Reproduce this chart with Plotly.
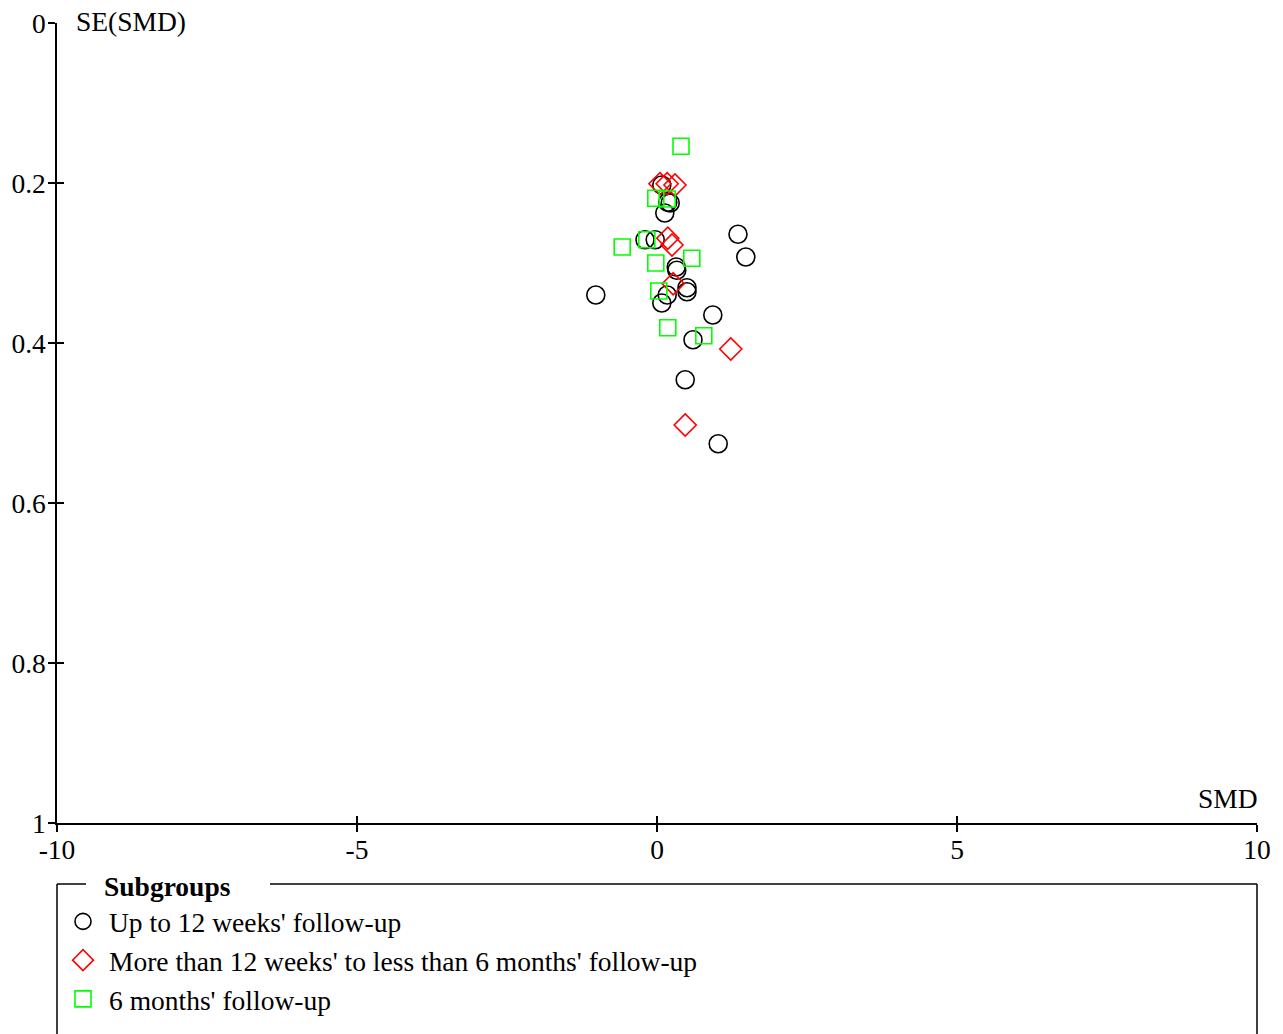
import plotly.graph_objects as go

# Data (SMD, SE(SMD))
up12_smd = [0.08, 0.18, 0.22, 0.13, -0.03, -0.20, 1.35, 1.48, 0.32, 0.33, 0.50, 0.50, 0.17, 0.08, -1.02, 0.93, 0.60, 0.47, 1.02]
up12_se = [0.2025, 0.224, 0.225, 0.2375, 0.271, 0.271, 0.264, 0.2925, 0.305, 0.309, 0.331, 0.336, 0.34, 0.35, 0.34, 0.365, 0.396, 0.446, 0.526]

mid_smd = [0.05, 0.17, 0.30, 0.18, 0.25, 0.27, 1.23, 0.47]
mid_se = [0.201, 0.201, 0.2025, 0.269, 0.2775, 0.326, 0.4075, 0.5025]

six_smd = [0.40, -0.02, 0.17, -0.17, -0.58, -0.02, 0.58, 0.03, 0.18, 0.78]
six_se = [0.154, 0.219, 0.22, 0.271, 0.28, 0.30, 0.294, 0.335, 0.381, 0.391]

series_names = ["Up to 12 weeks' follow-up",
                "More than 12 weeks' to less than 6 months' follow-up",
                "6 months' follow-up"]

x_ticks = [-10, -5, 0, 5, 10]
x_ticktext = ["-10", "-5", "0", "5", "10"]
y_ticks = [0, 0.2, 0.4, 0.6, 0.8, 1]
y_ticktext = ["0", "0.2", "0.4", "0.6", "0.8", "1"]

FONT = "Liberation Serif, Times New Roman, serif"
FS = 27.5

fig = go.Figure()
fig.add_trace(go.Scatter(x=up12_smd, y=up12_se, mode="markers", name=series_names[0],
                         marker=dict(symbol="circle-open", size=18, color="black",
                                     line=dict(width=1.6, color="black"))))
fig.add_trace(go.Scatter(x=mid_smd, y=mid_se, mode="markers", name=series_names[1],
                         marker=dict(symbol="diamond-open", size=17, color="red",
                                     line=dict(width=1.6, color="red"))))
fig.add_trace(go.Scatter(x=six_smd, y=six_se, mode="markers", name=series_names[2],
                         marker=dict(symbol="square-open", size=16, color="#00ff00",
                                     line=dict(width=1.6, color="#00ff00"))))
# dummy trace to host the overlay axes (inward half of the crossing ticks)
fig.add_trace(go.Scatter(x=[None], y=[None], xaxis="x2", yaxis="y2", showlegend=False,
                         hoverinfo="skip"))

axis_common = dict(showgrid=False, zeroline=False, showline=True, linecolor="black",
                   linewidth=1.5, ticks="outside", ticklen=7, tickwidth=1.5, tickcolor="black",
                   tickfont=dict(family=FONT, size=FS, color="black"))

fig.update_layout(
    width=1283, height=1034,
    margin=dict(l=57, r=26, t=23, b=211, autoexpand=False),
    paper_bgcolor="white", plot_bgcolor="white",
    font=dict(family=FONT, size=FS, color="black"),
    xaxis=dict(range=[-10, 10], tickvals=x_ticks, ticktext=x_ticktext, ticklabelstandoff=-6,
               **axis_common),
    yaxis=dict(range=[1, 0], tickvals=y_ticks, ticktext=y_ticktext, ticklabelstandoff=-3,
               **axis_common),
    xaxis2=dict(range=[-10, 10], overlaying="x", anchor="y2", side="bottom", tickvals=x_ticks,
                showticklabels=False, showgrid=False, zeroline=False, showline=False,
                ticks="inside", ticklen=7, tickwidth=1.5, tickcolor="black"),
    yaxis2=dict(range=[1, 0], overlaying="y", anchor="x2", side="left", tickvals=y_ticks,
                showticklabels=False, showgrid=False, zeroline=False, showline=False,
                ticks="inside", ticklen=7, tickwidth=1.5, tickcolor="black"),
    showlegend=True,
    legend=dict(x=0.0, xanchor="left", y=(823 - 897) / 800, yanchor="top", yref="paper",
                bgcolor="rgba(0,0,0,0)", borderwidth=0, itemwidth=42,
                font=dict(family=FONT, size=FS, color="black"),
                tracegroupgap=0),
    annotations=[
        dict(text="SE(SMD)", x=(77 - 57) / 1200, y=(823 - 21) / 800, xref="paper", yref="paper",
             xanchor="left", yanchor="middle", showarrow=False, xshift=-3,
             font=dict(family=FONT, size=FS, color="black")),
        dict(text="SMD", x=1.0, y=(823 - 798) / 800, xref="paper", yref="paper",
             xanchor="right", yanchor="middle", showarrow=False, xshift=3,
             font=dict(family=FONT, size=FS, color="black")),
        dict(text="<b>Subgroups</b>", x=(105 - 57) / 1200, y=(823 - 886) / 800,
             xref="paper", yref="paper", xanchor="left", yanchor="middle", showarrow=False,
             xshift=-3,
             font=dict(family=FONT, size=FS, color="black")),
    ],
    shapes=[
        dict(type="line", xref="paper", yref="paper", x0=0, x1=(86 - 57) / 1200,
             y0=-61 / 800, y1=-61 / 800, line=dict(color="black", width=1.5)),
        dict(type="line", xref="paper", yref="paper", x0=(270 - 57) / 1200, x1=1,
             y0=-61 / 800, y1=-61 / 800, line=dict(color="black", width=1.5)),
        dict(type="line", xref="paper", yref="paper", x0=0, x1=0,
             y0=-61 / 800, y1=-0.3, line=dict(color="black", width=1.5)),
        dict(type="line", xref="paper", yref="paper", x0=1, x1=1,
             y0=-61 / 800, y1=-0.3, line=dict(color="black", width=1.5)),
    ],
)

fig.write_html("out.html")
